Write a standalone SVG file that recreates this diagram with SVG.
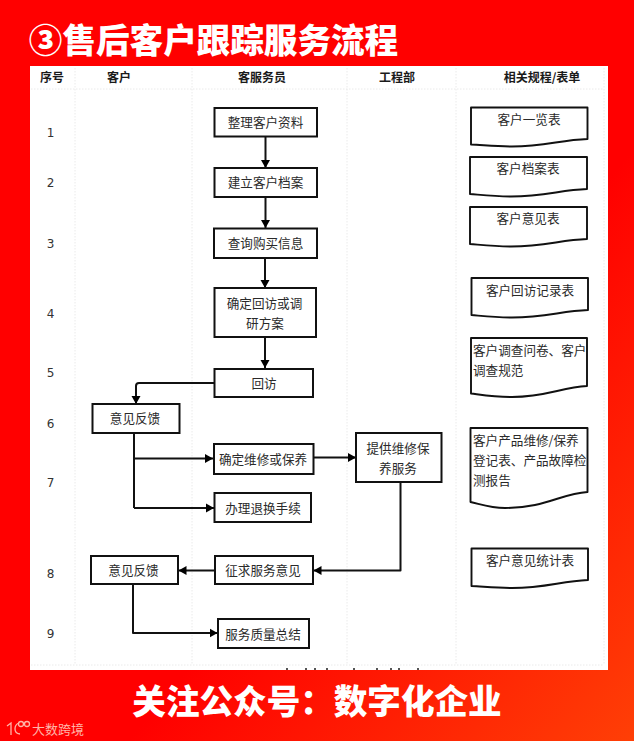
<svg xmlns="http://www.w3.org/2000/svg" width="634" height="741" viewBox="0 0 634 741">
<defs>
<linearGradient id="bg" x1="0" y1="0" x2="1" y2="1"><stop offset="0.6" stop-color="#ff0000"/><stop offset="1" stop-color="#ff3f06"/></linearGradient>
<marker id="arr" markerUnits="userSpaceOnUse" markerWidth="10" markerHeight="10" refX="8" refY="5" orient="auto"><path d="M0,0.5 L8,5 L0,9.500 Z" fill="#000"/></marker>
</defs>
<style>
text{font-family:"Noto Sans CJK SC","Noto Sans",sans-serif;text-anchor:middle}
.box{fill:#fff;stroke:#111;stroke-width:2}
.doc{fill:#fff;stroke:#111;stroke-width:1.9;stroke-linejoin:round}
.t{font-size:12.6px;fill:#2a2a2a}
.d{font-size:12.6px;fill:#2a2a2a;text-anchor:start}
.h{font-size:12px;font-weight:700;fill:#1a1a1a}
.n{font-size:12px;fill:#333;font-family:"DejaVu Sans",sans-serif}
.big{font-size:33.6px;font-weight:900;fill:#fff}
.grid{stroke:#e4e4e4;stroke-width:0.8;stroke-dasharray:1.5 1.5;fill:none}
.c{fill:none;stroke:#111;stroke-width:2;stroke-linejoin:round}
.a{marker-end:url(#arr)}
</style>
<rect width="634" height="741" fill="url(#bg)"/>
<text class="big" x="213.5" y="53">③售后客户跟踪服务流程</text>
<rect x="30" y="66" width="578" height="604" fill="#fff"/>
<g id="grid">
<path class="grid" d="M31,89H604M31,665H604M75,68V665M192,68V665M347,68V665M456,68V665M604,68V665"/>
<path d="M287,670V668M306,670V668M315,670V668M327,670V668M354,670V668M377,670V668M391,670V668M399,670V668M418,670V668" stroke="#555" stroke-width="2" fill="none"/>
</g>
<g id="headers">
<text class="h" x="52" y="82">序号</text>
<text class="h" x="119" y="82">客户</text>
<text class="h" x="262" y="82">客服务员</text>
<text class="h" x="397" y="82">工程部</text>
<text class="h" x="542" y="82">相关规程/表单</text>
</g>
<g id="numbers">
<text class="n" x="50.5" y="137">1</text>
<text class="n" x="50.5" y="187">2</text>
<text class="n" x="50.5" y="248">3</text>
<text class="n" x="50.5" y="318">4</text>
<text class="n" x="50.5" y="377">5</text>
<text class="n" x="50.5" y="428">6</text>
<text class="n" x="50.5" y="487">7</text>
<text class="n" x="50.5" y="578">8</text>
<text class="n" x="50.5" y="638">9</text>
</g>
<g id="connectors">
<path class="c a" d="M265.5,137V168"/>
<path class="c a" d="M265.5,197V228"/>
<path class="c a" d="M265,258V288"/>
<path class="c a" d="M265,337V368"/>
<path class="c a" d="M214,383H139Q136,383 136,386V404"/>
<path class="c" d="M134,433V508"/>
<path class="c a" d="M134,458.500H213"/>
<path class="c a" d="M134,508H214"/>
<path class="c a" d="M314,457.500H356"/>
<path class="c a" d="M400.500,482V570.500H313.500"/>
<path class="c a" d="M214,570.500H178.500"/>
<path class="c a" d="M133,584V633H217.500"/>
</g>
<g id="n1"><rect class="box" x="214.500" y="108" width="102.500" height="28.500"/><text class="t" x="265.500" y="127">整理客户资料</text></g>
<g id="n2"><rect class="box" x="214.500" y="168" width="102.500" height="29"/><text class="t" x="265.500" y="187">建立客户档案</text></g>
<g id="n3"><rect class="box" x="214" y="228.500" width="103" height="29.500"/><text class="t" x="265.500" y="248">查询购买信息</text></g>
<g id="n4"><rect class="box" x="214.500" y="288" width="101.500" height="49"/><text class="t" x="264.500" y="308">确定回访或调</text><text class="t" x="265" y="328">研方案</text></g>
<g id="n5"><rect class="box" x="214.500" y="369" width="98.500" height="28"/><text class="t" x="264" y="388">回访</text></g>
<g id="n6"><rect class="box" x="92.500" y="404" width="87" height="29"/><text class="t" x="135" y="423">意见反馈</text></g>
<g id="n7"><rect class="box" x="214" y="444" width="99.500" height="30"/><text class="t" x="263" y="464">确定维修或保养</text></g>
<g id="n8"><rect class="box" x="214.500" y="493" width="96.500" height="29"/><text class="t" x="263" y="513">办理退换手续</text></g>
<g id="n9"><rect class="box" x="356" y="433" width="85.500" height="49"/><text class="t" x="398" y="453">提供维修保</text><text class="t" x="398" y="473">养服务</text></g>
<g id="n10"><rect class="box" x="215" y="556" width="98" height="28"/><text class="t" x="263" y="575">征求服务意见</text></g>
<g id="n11"><rect class="box" x="91" y="556" width="87" height="28"/><text class="t" x="133.500" y="575">意见反馈</text></g>
<g id="n12"><rect class="box" x="218" y="619" width="91" height="29"/><text class="t" x="263" y="639">服务质量总结</text></g>
<g id="d1"><path class="doc" d="M471,107.500H587.500V139C560,140 545,146.500 512,146.500C495,146.500 483,145 471,144.500Z"/><text class="t" x="529" y="124">客户一览表</text></g>
<g id="d2"><path class="doc" d="M470,157H587V189C560,190 545,196.500 511,196.500C494,196.500 482,195 470,194Z"/><text class="t" x="528" y="173">客户档案表</text></g>
<g id="d3"><path class="doc" d="M470,207H587V239C560,240 545,246.500 511,246.500C494,246.500 482,245 470,244Z"/><text class="t" x="528" y="223">客户意见表</text></g>
<g id="d4"><path class="doc" d="M471.500,278H588V310C561,311 546,317.500 512,317.500C495,317.500 483,316 471.500,315Z"/><text class="t" x="530" y="295">客户回访记录表</text></g>
<g id="d5"><path class="doc" d="M471,338H587V386C561,387.500 546,397 512,397C495,397 483,395 471,393.500Z"/><text class="d" x="473" y="355">客户调查问卷、客户</text><text class="d" x="473" y="375">调查规范</text></g>
<g id="d6"><path class="doc" d="M470.500,428H587.500V492C561,493.500 546,508 505,508C490,508 480,504 470.500,502Z"/><text class="d" x="473" y="445">客户产品维修/保养</text><text class="d" x="473" y="465">登记表、产品故障检</text><text class="d" x="473" y="485">测报告</text></g>
<g id="d7"><path class="doc" d="M471.500,548.500H588V580C561,581 546,588 512,588C495,588 483,586.500 471.500,586Z"/><text class="t" x="530" y="565">客户意见统计表</text></g>
<text class="big" x="317" y="714">关注公众号：数字化企业</text>
<g id="watermark" fill="none" stroke="#ffb4a8" stroke-width="1.3">
<path d="M7,726L11,723V735M19,723C14,725 13,733 20,734"/>
<circle cx="21" cy="724" r="2.500"/><circle cx="27" cy="724" r="2.500"/>
<text x="58" y="734" font-size="13" fill="#ffb4a8" stroke="none">大数跨境</text>
</g>
</svg>
